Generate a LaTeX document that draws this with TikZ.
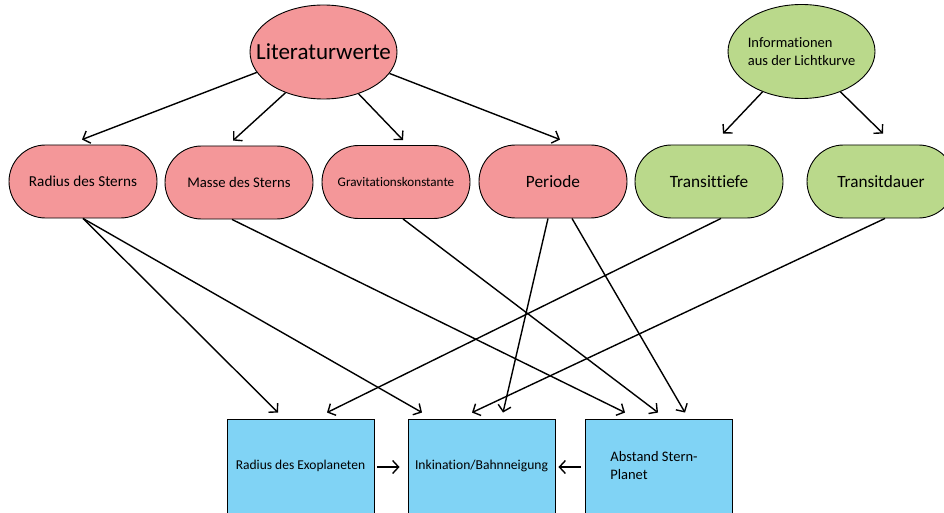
\documentclass[tikz,border=0pt]{standalone}
\usepackage{fontspec}
\setmainfont{Carlito}[Ligatures=NoCommon]
\usetikzlibrary{arrows.meta,shapes.misc,shapes.geometric}
\definecolor{pinkfill}{HTML}{F49799}
\definecolor{greenfill}{HTML}{BAD98B}
\definecolor{bluefill}{HTML}{80D3F5}
\begin{document}
\begin{tikzpicture}[x=1pt,y=-1pt,
  pill/.style={rounded rectangle, draw, line width=0.9pt, minimum width=148pt, minimum height=73pt, inner sep=0pt},
  oval/.style={ellipse, draw, line width=0.9pt, minimum width=147pt, minimum height=94pt, inner sep=0pt},
  box/.style={rectangle, draw, line width=0.9pt, fill=bluefill, minimum width=147pt, minimum height=94pt, inner sep=0pt, font=\fontsize{13.5}{17}\selectfont},
  conn/.style={line width=1.4pt, -{Straight Barb[length=6pt,width=13pt,line width=1.4pt]}, line join=round}
]
\useasboundingbox (0,0) rectangle (944,513);
\clip (0,0) rectangle (944,513);

% top ellipses
\node[oval, fill=pinkfill, label={[font=\fontsize{23}{27}\selectfont]center:Literaturwerte}] (lit) at (323.5,52) {};
\node[oval, fill=greenfill, label={[font=\fontsize{14.5}{17.5}\selectfont, align=left]center:Informationen\\aus der Lichtkurve}] (info) at (801.5,51.5) {};

% middle pills
\node[pill, fill=pinkfill, font=\fontsize{15.2}{18}\selectfont] (rs) at (83,181.5) {Radius des Sterns};
\node[pill, fill=pinkfill, font=\fontsize{14.7}{18}\selectfont] (ms) at (239,182.5) {Masse des Sterns};
\node[pill, fill=pinkfill, font=\fontsize{13.1}{16}\selectfont] (gk) at (396,182) {Gravitationskonstante};
\node[pill, fill=pinkfill, font=\fontsize{17.3}{20}\selectfont] (per) at (553,181.5) {Periode};
\node[pill, fill=greenfill, font=\fontsize{17.3}{20}\selectfont] (tt) at (709,181.5) {Transittiefe};
\node[pill, fill=greenfill, font=\fontsize{17.2}{20}\selectfont] (td) at (881,181.5) {Transitdauer};

% bottom boxes
\node[box] (rexo) at (300.5,466) {Radius des Exoplaneten};
\node[box, font=\fontsize{13.6}{17}\selectfont] (inkl) at (481.5,466) {Inkination/Bahnneigung};
\node[box, label={[font=\fontsize{14.5}{18}\selectfont, align=left, xshift=-5pt]center:Abstand Stern-\\Planet}] (abst) at (659,466) {};

% arrows from ellipses
\draw[conn] (lit.197) -- ([xshift=-1pt,yshift=5pt]rs.north);
\draw[conn] (lit.227) -- ([xshift=-6pt,yshift=5pt]ms.north);
\draw[conn] (lit.310) -- ([xshift=7pt,yshift=5pt]gk.north);
\draw[conn] (lit.342) -- ([xshift=7pt,yshift=5pt]per.north);
\draw[conn] (info.226) -- ([xshift=14pt,yshift=11pt]tt.north);
\draw[conn] (info.314) -- ([xshift=2pt,yshift=11pt]td.north);

% arrows down to boxes
\draw[conn] (rs.south) -- ([xshift=-22.5pt,yshift=6pt]rexo.north);
\draw[conn] (rs.south) -- ([xshift=-59.5pt,yshift=6pt]inkl.north);
\draw[conn] ([xshift=-7pt]ms.south) -- ([xshift=-34pt,yshift=6pt]abst.north);
\draw[conn] ([xshift=7pt]gk.south) -- ([xshift=-1pt,yshift=6pt]abst.north);
\draw[conn] ([xshift=-5pt]per.south) -- ([xshift=21.5pt,yshift=6pt]inkl.north);
\draw[conn] ([xshift=19pt]per.south) -- ([xshift=26pt,yshift=6pt]abst.north);
\draw[conn] ([xshift=12pt]tt.south) -- ([xshift=26.5pt,yshift=6pt]rexo.north);
\draw[conn] ([xshift=4pt]td.south) -- ([xshift=-9.5pt,yshift=6pt]inkl.north);

% horizontal arrows
\draw[conn, shorten <=3pt, shorten >=8pt] ([yshift=-1pt]rexo.east) -- ([yshift=-1pt]inkl.west);
\draw[conn, shorten <=4pt, shorten >=3pt] ([yshift=-1pt]abst.west) -- ([yshift=-1pt]inkl.east);
\end{tikzpicture}
\end{document}
